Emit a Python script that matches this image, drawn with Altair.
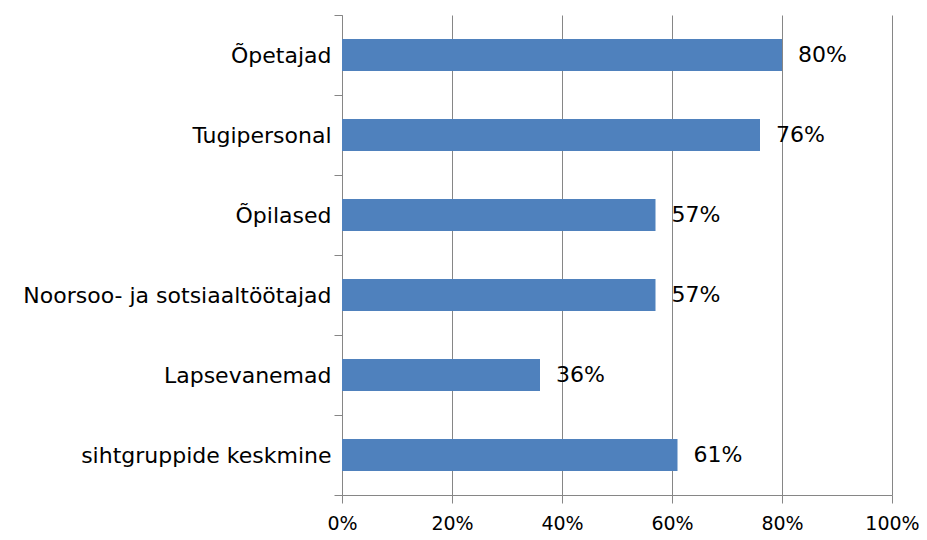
import altair as alt
import pandas as pd

categories = ["Õpetajad", "Tugipersonal", "Õpilased", "Noorsoo- ja sotsiaaltöötajad",
              "Lapsevanemad", "sihtgruppide keskmine"]
values = [0.80, 0.76, 0.57, 0.57, 0.36, 0.61]
x_ticks = [0, 0.2, 0.4, 0.6, 0.8, 1.0]

df = pd.DataFrame({"cat": categories, "val": values})

FONT = "DejaVu Sans"
FS = 22
XFS = 19
GRID = "#868686"

y_enc = alt.Y("cat:N", sort=categories,
              scale=alt.Scale(paddingInner=0, paddingOuter=0),
              axis=alt.Axis(title=None, tickBand="extent", tickSize=8, labelPadding=3,
                            labelFontSize=FS, labelFont=FONT, labelColor="#000000",
                            domainColor=GRID, tickColor=GRID, grid=False, labelLimit=400))
x_enc = alt.X("val:Q", scale=alt.Scale(domain=[0, 1], nice=False),
              axis=alt.Axis(title=None, values=x_ticks, format=".0%", grid=True,
                            gridColor=GRID, gridWidth=1, domainColor=GRID, tickColor=GRID,
                            tickSize=8, labelPadding=11, labelFontSize=XFS, labelFont=FONT,
                            labelColor="#000000", labelFlush=False, labelOverlap=False))

bars = alt.Chart(df).mark_bar(size=32, color="#4F81BD").encode(x=x_enc, y=y_enc)
labels = alt.Chart(df).mark_text(align="left", baseline="middle", dx=16, fontSize=FS,
                                 font=FONT, color="#000000").encode(
    x="val:Q", y=alt.Y("cat:N", sort=categories), text=alt.Text("val:Q", format=".0%"))

chart = (bars + labels).properties(
    width=550, height=480,
    autosize=alt.AutoSizeParams(type="none"),
    padding={"left": 334, "top": 7, "right": 27, "bottom": 37},
).configure_view(stroke=None).configure_axis(domainWidth=1, tickWidth=1)

chart.save("out.html", embed_options={"renderer": "svg", "actions": False})
